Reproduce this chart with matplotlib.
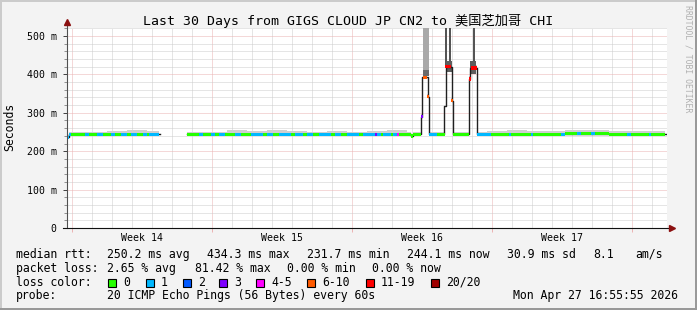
import numpy as np
import matplotlib.pyplot as plt
from matplotlib.patches import Rectangle
from matplotlib.ticker import FixedLocator, MultipleLocator, FuncFormatter

W, H = 697, 310
MONO = 'DejaVu Sans Mono'

title = 'Last 30 Days from GIGS CLOUD JP CN2 to 美国芝加哥 CHI'
weeks = ['Week 14', 'Week 15', 'Week 16', 'Week 17']
week_starts = [0.25, 7.25, 14.25, 21.25, 28.25]   # days since start of graph

# median rtt (ms) as steps: value holds from its day until the next one
rtt_day = [0.0, 0.1, 4.65, 6.0, 17.2, 17.3, 17.72, 17.76, 18.05, 18.1,
           18.86, 18.93, 19.23, 19.3, 20.1, 20.17, 20.48, 24.95, 27.15, 29.95]
rtt_ms = [236, 244, np.nan, 244, 239, 244, 290, 392, 342, 244,
          318, 420, 332, 244, 388, 417, 244, 246, 244, 244]

# loss colour code per 0.1 day slot ('.' = no data)
loss_codes = (
    '110000000110000111000011000111'
    '0011100011011111..............'
    '000000110000110011100000111000'
    '001111110011100011111100111100'
    '111000111111001110001111110011'
    '111131101111011400000000000355'
    '511110000666500000000666611111'
    '110000000001000000000010000000'
    '000000011000000110000011000000'
    '00000000001100000000010000000.'
)
loss_labels = ['0', '1', '2', '3', '4-5', '6-10', '11-19', '20/20']
loss_colors = ['#26ff00', '#00b8ff', '#0059ff', '#7e00ff', '#ff00ff',
               '#ff5a00', '#ff0000', '#a00000']

# light smoke: ping spread above the median, ms, one value per day
spread_ms = [5, 6, 8, 10, 9, 8, 7, 7, 10, 8, 11, 8, 7, 8, 7,
             8, 10, 7, 7, 7, 7, 8, 12, 8, 9, 8, 9, 8, 8, 8]

# heavy smoke during the three spikes
spike_start = [17.79, 17.79, 18.92, 19.12, 18.93, 20.28, 20.17]
spike_end = [18.11, 18.11, 19.02, 19.22, 19.25, 20.38, 20.47]
spike_lo = [396, 396, 425, 425, 405, 425, 400]
spike_hi = [700, 412, 700, 700, 436, 700, 434]
spike_grey = ['#a9a9a9', '#6a6a6a', '#555555', '#555555', '#5e5e5e', '#555555', '#5e5e5e']

stats_rtt = [('median rtt:', 16), ('250.2 ms avg', 107.3), ('434.3 ms max', 206.7),
             ('231.7 ms min', 307.3), ('244.1 ms now', 407.3), ('30.9 ms sd', 506.7),
             ('8.1', 593.3), ('am/s', 635)]
stats_loss = [('packet loss:', 16), ('2.65 % avg', 107.3), ('81.42 % max', 195),
              ('0.00 % min', 286.7), ('0.00 % now', 372.3)]
probe = [('probe:', 16), ('20 ICMP Echo Pings (56 Bytes) every 60s', 107.3),
         ('Mon Apr 27 16:55:55 2026', 512.7)]
box_x = [108.3, 145.7, 182.7, 219.3, 256, 307.3, 365.7, 430.7]


def fx(x):
    return x / W


def fy(y):
    return 1 - y / H


fig = plt.figure(figsize=(W / 100, H / 100), dpi=100, facecolor='#f3f3f3')
ax = fig.add_axes([fx(67), fy(228), 600 / W, 200 / H], facecolor='white')

ymax = 200 / 0.384
ax.set_xlim(0, 30)
ax.set_ylim(0, ymax)

# slots of 0.1 day
slot = 0.1
starts = np.arange(len(loss_codes)) * slot
centers = starts + slot / 2
idx = np.searchsorted(rtt_day, centers, side='right') - 1
rtt_slot = np.array(rtt_ms, dtype=float)[idx]
ok = np.array([c != '.' for c in loss_codes]) & ~np.isnan(rtt_slot)

spread = np.array(spread_ms, dtype=float)[np.minimum(centers.astype(int), 29)]
ax.bar(starts[ok], spread[ok], bottom=rtt_slot[ok], width=slot, align='edge',
       color='#cfcfcf', linewidth=0, zorder=2, antialiased=False)

ax.bar(spike_start, np.array(spike_hi) - np.array(spike_lo), bottom=spike_lo,
       width=np.array(spike_end) - np.array(spike_start), align='edge',
       color=spike_grey, linewidth=0, zorder=2, antialiased=False)

ax.step(rtt_day, rtt_ms, where='post', color='#202020', lw=1.0, zorder=3)

half = 4.5
cols = [loss_colors[int(c)] for c, k in zip(loss_codes, ok) if k]
ax.bar(starts[ok], 2 * half, bottom=rtt_slot[ok] - half, width=slot, align='edge',
       color=cols, linewidth=0, zorder=4, antialiased=False)

# grid
ax.xaxis.set_major_locator(FixedLocator(week_starts))
ax.xaxis.set_minor_locator(FixedLocator(np.arange(0.25, 30, 1.0)))
ax.yaxis.set_major_locator(MultipleLocator(100))
ax.yaxis.set_minor_locator(MultipleLocator(20))
ax.grid(which='major', color='#ebb3b3', linestyle=(0, (1, 1)), linewidth=0.72)
ax.grid(which='minor', color='#cccccc', linestyle=(0, (1, 1)), linewidth=0.72)
ax.set_axisbelow(True)

ax.xaxis.set_major_formatter(FuncFormatter(lambda v, p: ''))
ax.yaxis.set_major_formatter(FuncFormatter(lambda v, p: '0' if v == 0 else f'{int(round(v))} m'))
ax.tick_params(axis='y', which='major', length=3, width=0.7, color='#404040', pad=4.5,
               labelsize=7.1, labelfontfamily=MONO)
ax.tick_params(axis='y', which='minor', length=2, width=0.7, color='#909090')
ax.tick_params(axis='x', which='major', length=3, width=0.7, color='#ebb3b3')
ax.tick_params(axis='x', which='minor', length=0)

for s in ax.spines.values():
    s.set_visible(False)

# axes lines with arrows
ax.plot([0, 0], [0, 1.025], transform=ax.transAxes, color='#505050', lw=0.8,
        clip_on=False, zorder=5)
ax.plot([-4 / 600, 1.008], [0, 0], transform=ax.transAxes, color='#101010', lw=0.8,
        clip_on=False, zorder=5)
ax.plot([0], [1.03], transform=ax.transAxes, marker='^', ms=4.5, color='#8b1010',
        clip_on=False, zorder=6)
ax.plot([1.008], [0], transform=ax.transAxes, marker='>', ms=4.5, color='#8b1010',
        clip_on=False, zorder=6)

for i, w in enumerate(weeks):
    mid = (week_starts[i] + week_starts[i + 1]) / 2
    ax.text(mid, -12.7 / 200, w, transform=ax.get_xaxis_transform(), ha='center',
            va='baseline', fontsize=7.1, family=MONO)

# texts
fig.text(0.5, fy(25), title, ha='center', va='baseline', fontsize=9.5,
         family=[MONO, 'Noto Sans CJK SC'])
fig.text(fx(10), fy(127), 'Seconds', rotation=90, ha='center', va='center',
         fontsize=8.3, family=MONO)
fig.text(fx(688), fy(5), 'RRDTOOL / TOBI OETIKER', rotation=270, ha='center', va='top',
         fontsize=5.9, family=MONO, color='#b0b0b0')

for row, base in [(stats_rtt, 257.7), (stats_loss, 271.7), (probe, 299.5)]:
    for s, x in row:
        fig.text(fx(x), fy(base), s, ha='left', va='baseline', fontsize=8.3, family=MONO)

fig.text(fx(16), fy(285.7), 'loss color:', ha='left', va='baseline', fontsize=8.3, family=MONO)
for x, c, lab in zip(box_x, loss_colors, loss_labels):
    fig.add_artist(Rectangle((fx(x), fy(286.7)), 8 / W, 8 / H, transform=fig.transFigure,
                             facecolor=c, edgecolor='black', lw=0.8))
    fig.text(fx(x + 15), fy(285.7), lab, ha='left', va='baseline', fontsize=8.3, family=MONO)

# frame shading
fig.add_artist(Rectangle((0, 0), 2 / W, 1, transform=fig.transFigure, color='#cbcbcb', lw=0))
fig.add_artist(Rectangle((0, 1 - 2 / H), 1, 2 / H, transform=fig.transFigure, color='#cbcbcb', lw=0))
fig.add_artist(Rectangle((1 - 2 / W, 0), 2 / W, 1, transform=fig.transFigure, color='#999999', lw=0))
fig.add_artist(Rectangle((0, 0), 1, 2 / H, transform=fig.transFigure, color='#999999', lw=0))

fig.savefig('out.png', dpi=100, facecolor=fig.get_facecolor())
